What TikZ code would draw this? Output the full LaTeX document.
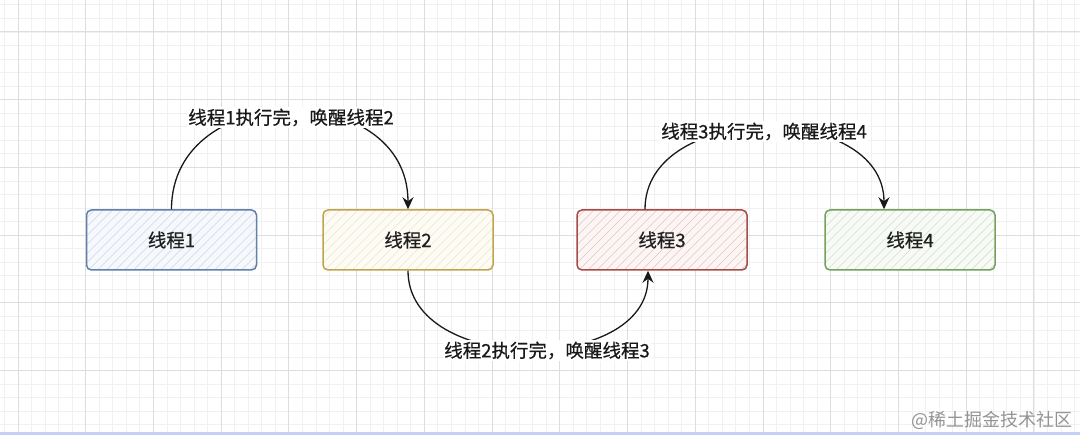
\documentclass[tikz,border=0pt]{standalone}
\usepackage{fontspec}
\newfontfamily\cjk[FakeBold=0.5]{Noto Sans CJK SC}
\newfontfamily\cjkwm{Noto Sans CJK SC}
\usetikzlibrary{arrows.meta}
\definecolor{bluS}{HTML}{6C8EBF}
\definecolor{yelS}{HTML}{D6B656}
\definecolor{redS}{HTML}{B85450}
\definecolor{grnS}{HTML}{82B366}
\definecolor{gridmaj}{HTML}{DDDDDD}
\definecolor{gridmin}{HTML}{F1F1F1}
\definecolor{barblue}{RGB}{196,206,246}
\begin{document}
\begin{tikzpicture}[x=1pt,y=-1pt,
  box/.style={draw=#1!90!black, line width=1.5pt, rounded corners=5pt,
    minimum width=170pt, minimum height=60pt, fill=#1!6,
    font=\cjk\fontsize{18.5}{21}\selectfont, text=black!88,
    path picture={\foreach \k in {-70,-61,...,175}
      \draw[#1!35, line width=0.7pt, sharp corners]
        ([xshift=\k pt]path picture bounding box.south west) -- ++(62pt,62pt);}},
  conn/.style={line width=1.3pt, black!90, -{Stealth[length=12pt,width=11pt]}},
  lbl/.style={fill=white, inner sep=1.5pt, text=black!90, font=\cjk\fontsize{18.5}{21}\selectfont},
  minorline/.style={gridmin, line width=0.9pt},
  majorline/.style={gridmaj, line width=1pt}]
\useasboundingbox (0,0) rectangle (1080,435);
\fill[white] (0,0) rectangle (1080,435);
% grid
\foreach \k in {-1,...,78} {
  \pgfmathsetmacro{\gx}{18+13.546*\k}
  \draw[minorline] (\gx,0) -- (\gx,432);
}
\foreach \k in {-2,...,29} {
  \pgfmathsetmacro{\gy}{32+13.546*\k}
  \draw[minorline] (0,\gy) -- (1080,\gy);
}
\foreach \k in {0,...,15} {
  \pgfmathsetmacro{\gx}{18+67.73*\k}
  \draw[majorline] (\gx,0) -- (\gx,432);
}
\foreach \k in {0,...,5} {
  \pgfmathsetmacro{\gy}{32+67.73*\k}
  \draw[majorline] (0,\gy) -- (1080,\gy);
}
\fill[barblue] (0,432) rectangle (1080,435);
% boxes
\node[box=bluS] (b1) at (171.5,240) {线程1};
\node[box=yelS] (b2) at (408,240) {线程2};
\node[box=redS] (b3) at (662,240) {线程3};
\node[box=grnS] (b4) at (910,240) {线程4};
% connectors
\draw[conn] (b1.north) .. controls +(0,-131) and +(0,-131) .. (b2.north);
\draw[conn] (b2.south) .. controls +(0,104) and +(0,104) .. ([xshift=-14pt]b3.south);
\draw[conn] ([xshift=-17pt]b3.north) .. controls +(0,-108) and +(0,-108) .. ([xshift=-26pt]b4.north);
% labels
\node[lbl] (l1) at (291,117.5) {线程1执行完，唤醒线程2};
\node[lbl] (l2) at (547,350.5) {线程2执行完，唤醒线程3};
\node[lbl] (l3) at (764,131.5) {线程3执行完，唤醒线程4};
% watermark
\node[font=\cjkwm\fontsize{18}{20}\selectfont, text=black!42, inner sep=0pt] (wm) at (992,420) {@稀土掘金技术社区};
\end{tikzpicture}
\end{document}
